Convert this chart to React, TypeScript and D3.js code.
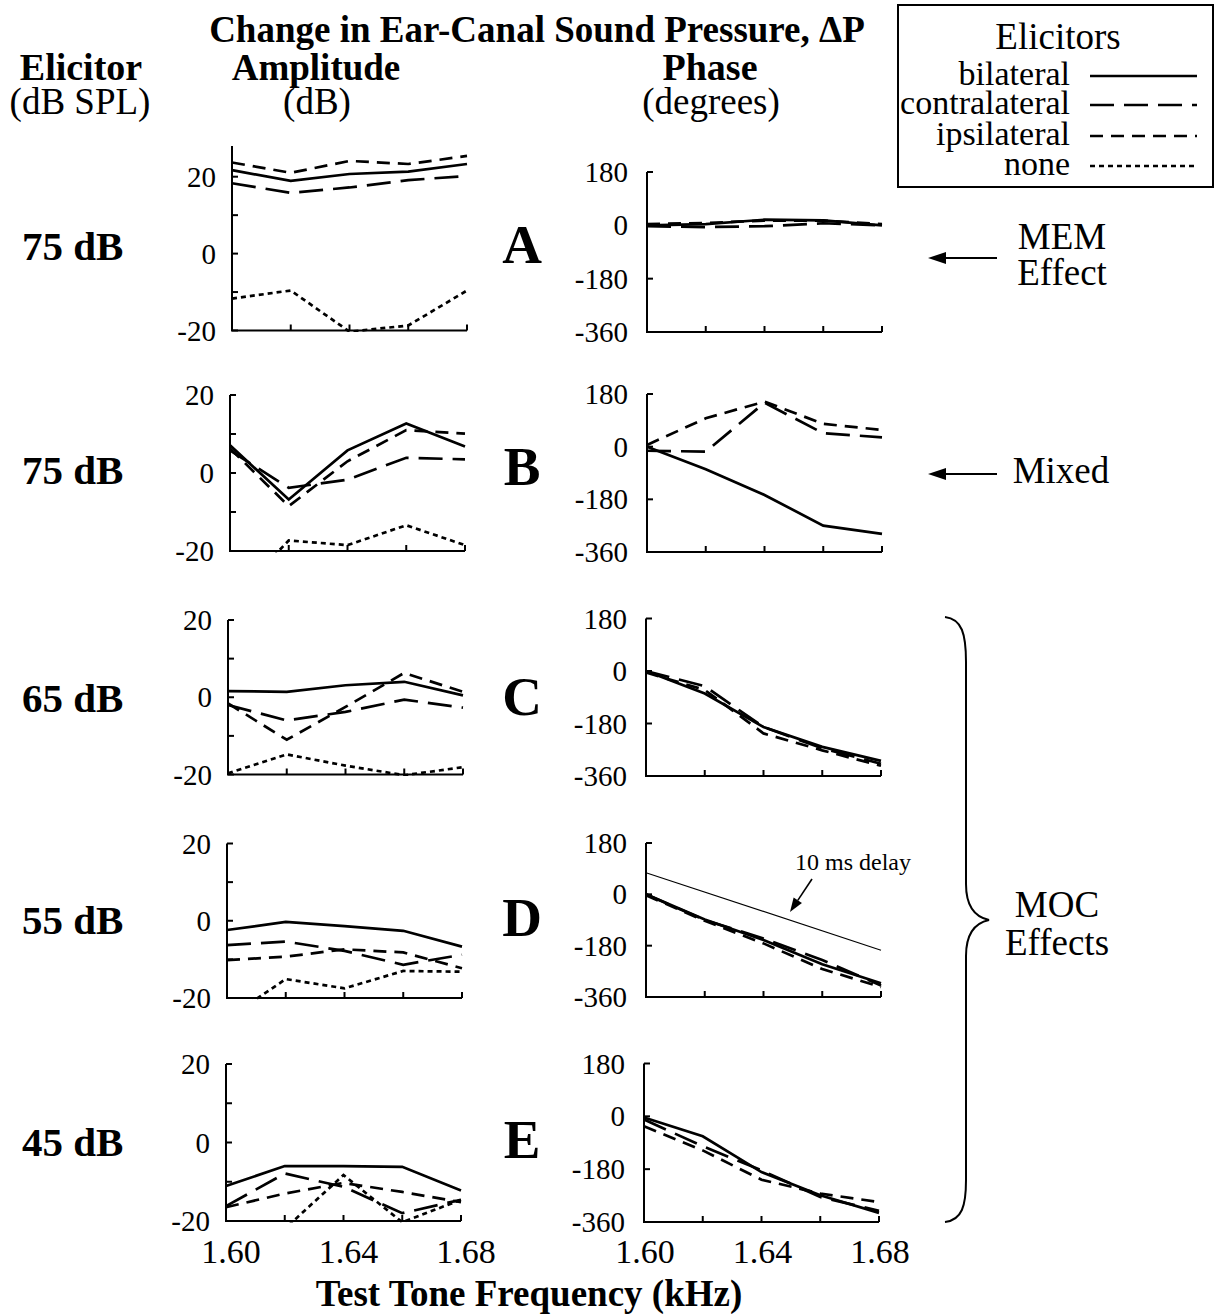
import React from "react";
import * as d3 from "d3";

// ---------- data ----------
const freqs = [1.6, 1.62, 1.64, 1.66, 1.68];
const elicitors = ["bilateral", "contralateral", "ipsilateral", "none"];
const rowLevels = ["75 dB", "75 dB", "65 dB", "55 dB", "45 dB"];
const rowLetters = ["A", "B", "C", "D", "E"];
const ampTicks = [20, 10, 0, -10, -20];
const ampTickLabels = [20, 0, -20];
const phaseTicks = [180, 0, -180, -360];
const xTicks = [1.6, 1.62, 1.64, 1.66, 1.68];
const xTickLabels = [1.6, 1.64, 1.68];

// amplitude (dB)
const ampA_bilateral = [21.7, 18.9, 20.7, 21.3, 23.3];
const ampA_contralateral = [18.3, 15.8, 17.2, 19.1, 20.2];
const ampA_ipsilateral = [23.7, 21.0, 24.1, 23.3, 25.4];
const ampA_none = [-11.7, -9.6, -20.3, -18.7, -9.6];
const ampB_bilateral = [7.1, -6.8, 5.8, 12.7, 6.8];
const ampB_contralateral = [5.8, -3.8, -1.7, 3.9, 3.5];
const ampB_ipsilateral = [6.3, -8.5, 3.0, 11.0, 10.1];
const ampB_none = [-33, -17.3, -18.5, -13.4, -18.5];
const ampC_bilateral = [1.6, 1.4, 3.1, 4.0, 0.5];
const ampC_contralateral = [-2.0, -6.0, -3.8, -0.6, -2.7];
const ampC_ipsilateral = [-1.6, -11.0, -2.5, 6.3, 1.4];
const ampC_none = [-19.7, -14.8, -17.7, -20.2, -18.1];
const ampD_bilateral = [-2.4, -0.3, -1.4, -2.6, -6.7];
const ampD_contralateral = [-6.3, -5.4, -7.8, -11.4, -8.8];
const ampD_ipsilateral = [-10.2, -9.3, -7.4, -8.2, -12.3];
const ampD_none = [-25.4, -15.1, -17.5, -13.0, -13.2];
const ampE_bilateral = [-11.1, -6.0, -6.0, -6.2, -12.2];
const ampE_contralateral = [-16.2, -7.9, -11.3, -18.0, -14.6];
const ampE_ipsilateral = [-16.5, -13.0, -10.3, -12.6, -15.2];
const ampE_none = [-30, -22, -8.3, -20.3, -14.6];

// phase (degrees)
const phA_bilateral = [0, 4, 19, 17, 0];
const phA_contralateral = [-3, -6, -3, 7, 0];
const phA_ipsilateral = [4, 8, 16, 16, 4];
const phB_bilateral = [0, -77, -165, -270, -298];
const phB_contralateral = [-14, -17, 150, 46, 32];
const phB_ipsilateral = [6, 97, 154, 78, 57];
const phC_bilateral = [0, -77, -192, -260, -308];
const phC_contralateral = [0, -52, -192, -265, -318];
const phC_ipsilateral = [-5, -65, -214, -272, -325];
const phD_bilateral = [0, -88, -160, -245, -312];
const phD_contralateral = [0, -90, -155, -230, -320];
const phD_ipsilateral = [-3, -93, -172, -262, -325];
const phE_bilateral = [-4, -68, -190, -269, -329];
const phE_contralateral = [-11, -102, -184, -275, -322];
const phE_ipsilateral = [-34, -116, -216, -263, -292];
const delayFreqs = [1.6, 1.68];
const delayPhase = [76, -196];

const ampData = [
  [ampA_bilateral, ampA_contralateral, ampA_ipsilateral, ampA_none],
  [ampB_bilateral, ampB_contralateral, ampB_ipsilateral, ampB_none],
  [ampC_bilateral, ampC_contralateral, ampC_ipsilateral, ampC_none],
  [ampD_bilateral, ampD_contralateral, ampD_ipsilateral, ampD_none],
  [ampE_bilateral, ampE_contralateral, ampE_ipsilateral, ampE_none],
];
const phData = [
  [phA_bilateral, phA_contralateral, phA_ipsilateral],
  [phB_bilateral, phB_contralateral, phB_ipsilateral],
  [phC_bilateral, phC_contralateral, phC_ipsilateral],
  [phD_bilateral, phD_contralateral, phD_ipsilateral],
  [phE_bilateral, phE_contralateral, phE_ipsilateral],
];

// ---------- layout ----------
const W = 1215;
const H = 1314;
const FONT = "'Liberation Serif', 'Times New Roman', serif";
const dashes: Record<string, string | undefined> = {
  bilateral: undefined,
  contralateral: "24 10",
  ipsilateral: "13 8",
  none: "5 4",
};
const rows = [
  { a20: 176.7, aM20: 330.5, p180: 172, pM360: 332, lx: 232, rx: 647, aTop: 28, labY: 246, letY: 245 },
  { a20: 395, aM20: 551, p180: 394, pM360: 552, lx: 230, rx: 647, aTop: 20, labY: 470, letY: 467 },
  { a20: 620, aM20: 774.5, p180: 618.5, pM360: 776, lx: 228, rx: 646, aTop: 20, labY: 698, letY: 697 },
  { a20: 843.5, aM20: 998, p180: 843, pM360: 997, lx: 227, rx: 646, aTop: 20, labY: 920, letY: 918 },
  { a20: 1064, aM20: 1221, p180: 1063.5, pM360: 1222, lx: 226, rx: 644, aTop: 20, labY: 1142, letY: 1140 },
];
const PW = 235;
const TICK = 6;
const TF = 37; // header font size

function Arrow({ x1, y1, x2, y2, len = 18, half = 6, sw = 2 }) {
  const ang = Math.atan2(y2 - y1, x2 - x1);
  const bx = x2 - len * Math.cos(ang);
  const by = y2 - len * Math.sin(ang);
  const px = -Math.sin(ang) * half;
  const py = Math.cos(ang) * half;
  return (
    <g>
      <line x1={x1} y1={y1} x2={bx} y2={by} stroke="#000" strokeWidth={sw} />
      <path d={`M${x2},${y2} L${bx + px},${by + py} L${bx - px},${by - py} Z`} fill="#000" />
    </g>
  );
}

function AmpPanel({ r, i }) {
  const x = d3.scaleLinear().domain([1.6, 1.68]).range([r.lx, r.lx + PW]);
  const y = d3.scaleLinear().domain([-20, 20]).range([r.aM20, r.a20]);
  const line = d3
    .line<number>()
    .x((_, k) => x(freqs[k]))
    .y((d) => y(d));
  const clipId = `ampclip${i}`;
  return (
    <g>
      <defs>
        <clipPath id={clipId}>
          <rect x={r.lx - 2} y={y(r.aTop) - 4} width={PW + 4} height={y(-20) - y(r.aTop) + 5.5} />
        </clipPath>
      </defs>
      <path
        d={`M${r.lx},${y(r.aTop)} L${r.lx},${y(-20)} L${r.lx + PW},${y(-20)}`}
        fill="none"
        stroke="#000"
        strokeWidth={2}
      />
      {ampTicks.map((t) => (
        <line key={t} x1={r.lx} x2={r.lx + TICK} y1={y(t)} y2={y(t)} stroke="#000" strokeWidth={2} />
      ))}
      {xTicks.map((t) => (
        <line key={t} x1={x(t)} x2={x(t)} y1={y(-20)} y2={y(-20) - TICK} stroke="#000" strokeWidth={2} />
      ))}
      {ampTickLabels.map((t) => (
        <text key={t} x={r.lx - 16} y={y(t)} dy="0.35em" textAnchor="end" fontSize={29} fontFamily={FONT}>
          {t}
        </text>
      ))}
      <g clipPath={`url(#${clipId})`}>
        {ampData[i].map((s, k) => (
          <path
            key={k}
            d={line(s) || ""}
            fill="none"
            stroke="#000"
            strokeWidth={2.7}
            strokeDasharray={dashes[elicitors[k]]}
          />
        ))}
      </g>
    </g>
  );
}

function PhasePanel({ r, i }) {
  const x = d3.scaleLinear().domain([1.6, 1.68]).range([r.rx, r.rx + PW]);
  const y = d3.scaleLinear().domain([-360, 180]).range([r.pM360, r.p180]);
  const line = d3
    .line<number>()
    .x((_, k) => x(freqs[k]))
    .y((d) => y(d));
  const delayLine = d3
    .line<number>()
    .x((_, k) => x(delayFreqs[k]))
    .y((d) => y(d));
  return (
    <g>
      <path
        d={`M${r.rx},${y(180)} L${r.rx},${y(-360)} L${r.rx + PW},${y(-360)}`}
        fill="none"
        stroke="#000"
        strokeWidth={2}
      />
      {phaseTicks.map((t) => (
        <line key={t} x1={r.rx} x2={r.rx + TICK} y1={y(t)} y2={y(t)} stroke="#000" strokeWidth={2} />
      ))}
      {xTicks.map((t) => (
        <line key={t} x1={x(t)} x2={x(t)} y1={y(-360)} y2={y(-360) - TICK} stroke="#000" strokeWidth={2} />
      ))}
      {phaseTicks.map((t) => (
        <text key={t} x={r.rx - 19} y={y(t)} dy="0.35em" textAnchor="end" fontSize={29} fontFamily={FONT}>
          {t}
        </text>
      ))}
      {phData[i].map((s, k) => (
        <path
          key={k}
          d={line(s) || ""}
          fill="none"
          stroke="#000"
          strokeWidth={2.7}
          strokeDasharray={dashes[elicitors[k]]}
        />
      ))}
      {i === 3 && (
        <g>
          <path d={delayLine(delayPhase) || ""} fill="none" stroke="#000" strokeWidth={1.1} />
          <text x={795} y={870} fontSize={24} fontFamily={FONT}>
            10 ms delay
          </text>
          <Arrow x1={812} y1={879} x2={790} y2={912} len={14} half={5} sw={1.6} />
        </g>
      )}
    </g>
  );
}

export default function App() {
  const last = rows[4];
  const xl = d3.scaleLinear().domain([1.6, 1.68]).range([last.lx, last.lx + PW]);
  const xr = d3.scaleLinear().domain([1.6, 1.68]).range([last.rx, last.rx + PW]);
  const legendY = [76, 105, 136, 166];
  return (
    <svg
      width={W}
      height={H}
      viewBox={`0 0 ${W} ${H}`}
      style={{ position: "absolute", left: 0, top: 0, background: "#fff" }}
      fontFamily={FONT}
    >
      <rect x={0} y={0} width={W} height={H} fill="#fff" />
      {/* headers */}
      <text x={537} y={42} textAnchor="middle" fontSize={TF} fontWeight="bold">
        Change in Ear-Canal Sound Pressure, ΔP
      </text>
      <text x={81} y={80} textAnchor="middle" fontSize={38} fontWeight="bold">
        Elicitor
      </text>
      <text x={80} y={114} textAnchor="middle" fontSize={TF}>
        (dB SPL)
      </text>
      <text x={316} y={80} textAnchor="middle" fontSize={TF} fontWeight="bold">
        Amplitude
      </text>
      <text x={317} y={114} textAnchor="middle" fontSize={TF}>
        (dB)
      </text>
      <text x={710} y={80} textAnchor="middle" fontSize={38} fontWeight="bold">
        Phase
      </text>
      <text x={711} y={114} textAnchor="middle" fontSize={TF}>
        (degrees)
      </text>

      {rows.map((r, i) => (
        <g key={i}>
          <AmpPanel r={r} i={i} />
          <PhasePanel r={r} i={i} />
          <text x={22} y={r.labY + 14} fontSize={41} fontWeight="bold">
            {rowLevels[i]}
          </text>
          <text x={522} y={r.letY + 18} textAnchor="middle" fontSize={55} fontWeight="bold">
            {rowLetters[i]}
          </text>
        </g>
      ))}

      {/* x tick labels */}
      {xTickLabels.map((t) => (
        <text key={"l" + t} x={xl(t) + 5} y={1263} textAnchor="middle" fontSize={34}>
          {t.toFixed(2)}
        </text>
      ))}
      {xTickLabels.map((t) => (
        <text key={"r" + t} x={xr(t) + 1} y={1263} textAnchor="middle" fontSize={34}>
          {t.toFixed(2)}
        </text>
      ))}
      <text x={529} y={1306} textAnchor="middle" fontSize={TF} fontWeight="bold">
        Test Tone Frequency (kHz)
      </text>

      {/* legend */}
      <rect x={898} y={5} width={315} height={182} fill="#fff" stroke="#000" strokeWidth={2} />
      <text x={1058} y={49} textAnchor="middle" fontSize={TF}>
        Elicitors
      </text>
      {elicitors.map((e, k) => (
        <g key={e}>
          <text x={1070} y={legendY[k] + 9} textAnchor="end" fontSize={34}>
            {e}
          </text>
          <line
            x1={1090}
            x2={1197}
            y1={legendY[k]}
            y2={legendY[k]}
            stroke="#000"
            strokeWidth={2.4}
            strokeDasharray={dashes[e]}
          />
        </g>
      ))}

      {/* annotations */}
      <Arrow x1={997} y1={258} x2={928} y2={258} />
      <text x={1062} y={249} textAnchor="middle" fontSize={TF}>
        MEM
      </text>
      <text x={1062} y={285} textAnchor="middle" fontSize={TF}>
        Effect
      </text>
      <Arrow x1={997} y1={474} x2={928} y2={474} />
      <text x={1061} y={483} textAnchor="middle" fontSize={TF}>
        Mixed
      </text>
      <path
        d="M945,617 C962,619 966,634 966,662 L966,884 C966,906 975,917 989,920 C975,923 966,934 966,956 L966,1180 C966,1206 962,1220 945,1222"
        fill="none"
        stroke="#000"
        strokeWidth={2}
      />
      <text x={1057} y={917} textAnchor="middle" fontSize={TF}>
        MOC
      </text>
      <text x={1057} y={955} textAnchor="middle" fontSize={TF}>
        Effects
      </text>
    </svg>
  );
}
